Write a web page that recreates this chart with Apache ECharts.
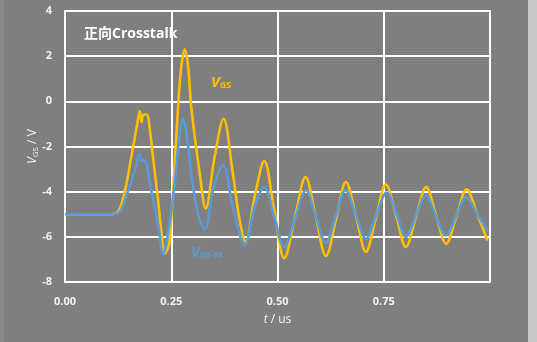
<!DOCTYPE html>
<html>
<head>
<meta charset="utf-8">
<script src="https://cdn.jsdelivr.net/npm/echarts@6/dist/echarts.min.js"></script>
<style>
html,body{margin:0;padding:0;background:#7f7f7f;}
#c{position:absolute;left:0;top:0;width:537px;height:342px;}
#sl{position:absolute;left:0;top:0;width:4px;height:342px;background:#8a8a8a;}
#sr{position:absolute;left:528px;top:0;width:9px;height:342px;background:#c8c8c8;}
</style>
</head>
<body>
<div id="c"></div>
<div id="sl"></div>
<div id="sr"></div>
<script>
// ---- data ----
const xTicks = ['0.00', '0.25', '0.50', '0.75'];
const yTicks = [-8, -6, -4, -2, 0, 2, 4];

const vgsTime = [0, 0.10, 0.122, 0.141, 0.156, 0.170, 0.176, 0.180, 0.184, 0.192, 0.200, 0.207, 0.219, 0.228, 0.235, 0.242,
  0.246, 0.256, 0.266, 0.274, 0.282, 0.290, 0.297, 0.317, 0.331, 0.352, 0.373, 0.395, 0.411, 0.425, 0.446, 0.469,
  0.492, 0.516, 0.541, 0.566, 0.590, 0.614, 0.638, 0.661, 0.685, 0.708, 0.731, 0.755, 0.779, 0.802, 0.826, 0.850,
  0.873, 0.897, 0.921, 0.945, 0.970, 0.994];
const vgsValue = [-5.0, -5.0, -4.95, -3.94, -2.47, -1.0, -0.43, -0.92, -0.6, -0.58, -1.3, -2.47, -4.38, -6.0, -6.75, -6.5,
  -6.2, -3.5, -0.25, 1.6, 2.29, 1.5, -0.25, -3.2, -4.75, -2.47, -0.77, -3.2, -5.27, -6.23, -4.24, -2.64,
  -4.8, -6.95, -5.15, -3.35, -5.1, -6.85, -5.2, -3.57, -5.1, -6.67, -5.2, -3.68, -5.05, -6.45, -5.1, -3.8,
  -5.05, -6.3, -5.1, -3.9, -5.0, -6.16];

const vgsmTime = [0, 0.10, 0.125, 0.149, 0.164, 0.176, 0.180, 0.186, 0.203, 0.219, 0.231, 0.246, 0.258, 0.268, 0.278,
  0.287, 0.297, 0.312, 0.329, 0.348, 0.372, 0.395, 0.423, 0.446, 0.469, 0.492, 0.516, 0.541, 0.567, 0.590, 0.614,
  0.637, 0.660, 0.684, 0.708, 0.732, 0.757, 0.780, 0.802, 0.826, 0.849, 0.872, 0.896, 0.920, 0.944, 0.970, 0.995];
const vgsmValue = [-5.0, -5.0, -4.95, -3.94, -3.06, -2.32, -2.62, -2.61, -3.94, -5.42, -6.75, -5.42, -3.6, -1.8, -0.77,
  -1.6, -3.2, -4.9, -5.68, -3.94, -2.83, -4.68, -6.38, -4.68, -3.79, -5.1, -6.45, -5.2, -3.94, -5.1, -6.27,
  -5.1, -3.94, -5.0, -6.08, -5.05, -4.04, -5.0, -6.0, -5.05, -4.16, -5.05, -5.93, -5.1, -4.24, -5.0, -5.76];

const vgsData = vgsTime.map((t, i) => [t, vgsValue[i]]);
const vgsmData = vgsmTime.map((t, i) => [t, vgsmValue[i]]);

const FONT = '"Open Sans", "Noto Sans CJK SC", sans-serif';
const chart = echarts.init(document.getElementById('c'), null, {renderer: 'canvas'});
chart.setOption({
  backgroundColor: 'transparent',
  animation: false,
  title: {
    text: '正向Crosstalk',
    left: 79, top: 22,
    textStyle: {color: '#ffffff', fontSize: 14, fontWeight: 'bold', fontFamily: FONT}
  },
  grid: {left: 65, right: 47, top: 11, bottom: 60, show: true, borderColor: '#ffffff', borderWidth: 2, backgroundColor: 'transparent'},
  xAxis: {
    type: 'value', min: 0, max: 1.0, interval: 0.25,
    axisLine: {show: false}, axisTick: {show: false},
    splitLine: {show: true, lineStyle: {color: '#ffffff', width: 2}},
    axisLabel: {
      color: '#f2f2f2', fontSize: 11, fontWeight: 'bold', fontFamily: FONT, margin: 14,
      showMaxLabel: false,
      formatter: v => { const s = v.toFixed(2); return xTicks.indexOf(s) >= 0 ? s : ''; }
    },
    name: '{i|t} / us',
    nameLocation: 'middle', nameGap: 32, nameMoveOverlap: false,
    nameTextStyle: {color: '#f2f2f2', fontSize: 12, fontFamily: FONT,
      rich: {i: {fontStyle: 'italic', fontSize: 12, color: '#f2f2f2', fontFamily: FONT}}}
  },
  yAxis: {
    type: 'value', min: yTicks[0], max: yTicks[yTicks.length - 1], interval: 2,
    axisLine: {show: false}, axisTick: {show: false},
    splitLine: {show: true, lineStyle: {color: '#ffffff', width: 2}},
    axisLabel: {color: '#f2f2f2', fontSize: 11, fontWeight: 'bold', fontFamily: FONT, margin: 13},
    name: '{i|V}{s|GS} / V',
    nameLocation: 'middle', nameGap: 25, nameRotate: 90, nameMoveOverlap: false,
    nameTextStyle: {color: '#f2f2f2', fontSize: 12, fontFamily: FONT,
      rich: {
        i: {fontStyle: 'italic', fontSize: 12, color: '#f2f2f2', fontFamily: FONT},
        s: {fontSize: 8, color: '#f2f2f2', fontFamily: FONT, verticalAlign: 'bottom', padding: [6, 0, 0, 0]}
      }}
  },
  series: [
    {type: 'line', name: 'VGS', data: vgsData, showSymbol: false, smooth: 0.35,
      lineStyle: {color: '#FFC000', width: 2.6}, z: 2},
    {type: 'line', name: 'VGS-M', data: vgsmData, showSymbol: false, smooth: 0.35,
      lineStyle: {color: '#5B9BD5', width: 2.6}, z: 3}
  ],
  graphic: [
    {type: 'text', left: 211, top: 75, z: 10,
      style: {text: '{v|V}{s|GS}', rich: {
        v: {fontSize: 15, fontStyle: 'italic', fontWeight: 'bold', fill: '#FFC000', fontFamily: FONT},
        s: {fontSize: 9, fontWeight: 'bold', fill: '#FFC000', fontFamily: FONT, padding: [6, 0, 0, 0]}
      }}},
    {type: 'text', left: 191, top: 245, z: 10,
      style: {text: '{v|V}{s|GS-M}', rich: {
        v: {fontSize: 15, fontStyle: 'italic', fontWeight: 'bold', fill: '#5B9BD5', fontFamily: FONT},
        s: {fontSize: 9, fontWeight: 'bold', fill: '#5B9BD5', fontFamily: FONT, padding: [6, 0, 0, 0]}
      }}}
  ]
});
</script>
</body>
</html>
